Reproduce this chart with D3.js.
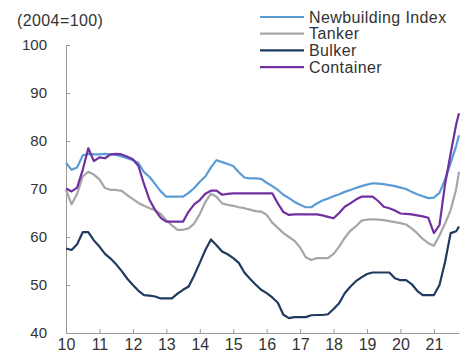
<!DOCTYPE html>
<html>
<head>
<meta charset="utf-8">
<script src="https://cdn.jsdelivr.net/npm/d3@7"></script>
<style>
  body { margin: 0; background: #fff; }
  text { font-family: "Liberation Sans", Arial, sans-serif; fill: #333; }
</style>
</head>
<body>
<div id="chart"></div>
<script>
// bi-monthly observations, Jan 2010 .. Sep 2021 (x axis in two-digit years)
const periods = d3.range(0, 71).map(k => 10 + k / 6).concat([21.75]);

const newbuilding = [
  75.5, 74, 74.5, 77, 77.3, 77.2, 77.2, 77.3, 77.2, 77.1, 76.8, 76.4,
  76, 75.4, 73.5, 72.5, 71, 69.5, 68.4, 68.4, 68.4, 68.4, 69.2, 70.2,
  71.5, 72.6, 74.5, 76, 75.6, 75.2, 74.8, 73.5, 72.4, 72.2, 72.2, 72.1,
  71.3, 70.6, 69.8, 68.8, 68.1, 67.3, 66.7, 66.2, 66.2, 67, 67.6, 68,
  68.5, 68.9, 69.4, 69.8, 70.2, 70.6, 70.9, 71.2, 71.1, 71, 70.8, 70.6,
  70.3, 70, 69.4, 68.9, 68.5, 68.1, 68.2, 69.2, 72, 75.4, 79, 81.2
];
const tanker = [
  69.8, 66.8, 69, 72.6, 73.6, 73, 72, 70.2, 69.8, 69.8, 69.6, 68.7,
  67.9, 67.1, 66.5, 66, 65.6, 64.8, 63.5, 62.4, 61.5, 61.5, 61.8, 62.8,
  64.8, 67.3, 69, 68.4, 67, 66.7, 66.5, 66.2, 66, 65.7, 65.4, 65.3,
  64.6, 63, 61.9, 60.8, 60, 59.2, 57.8, 55.8, 55.2, 55.6, 55.6, 55.6,
  56.5, 58, 59.8, 61.3, 62.2, 63.4, 63.6, 63.7, 63.6, 63.5, 63.3, 63.1,
  62.9, 62.6, 61.8, 60.8, 59.6, 58.7, 58.2, 60.3, 62.8, 65.6, 70, 73.6
];
const bulker = [
  57.6, 57.3, 58.5, 61, 61, 59.3, 58, 56.5, 55.5, 54.3, 52.9, 51.3,
  50, 48.8, 47.9, 47.8, 47.6, 47.2, 47.2, 47.2, 48.2, 49, 49.7, 52,
  54.6, 57.3, 59.5, 58.3, 57, 56.4, 55.6, 54.6, 52.6, 51.3, 50.1, 49,
  48.3, 47.4, 46.3, 43.8, 43.1, 43.3, 43.3, 43.3, 43.7, 43.75, 43.75, 43.9,
  45, 46.2, 48.3, 49.65, 50.8, 51.6, 52.3, 52.6, 52.6, 52.6, 52.6, 51.4,
  51, 51, 50.2, 48.8, 47.9, 47.9, 47.9, 50, 54.8, 60.8, 61.2, 62.2
];
const container = [
  70.1, 69.5, 70.3, 74, 78.5, 75.8, 76.6, 76.4, 77.2, 77.3, 77.2, 76.7,
  76.2, 74.8, 71, 67.7, 65.6, 64, 63.2, 63.2, 63.2, 63.2, 65.3, 66.8,
  67.7, 69, 69.65, 69.65, 68.8, 69, 69.1, 69.1, 69.1, 69.1, 69.1, 69.1,
  69.1, 69.1, 67, 65.2, 64.6, 64.7, 64.7, 64.7, 64.7, 64.7, 64.5, 64.2,
  63.9, 65, 66.3, 67, 67.8, 68.4, 68.4, 68.4, 67.5, 66.3, 66, 65.5,
  64.9, 64.8, 64.7, 64.5, 64.3, 64, 60.8, 62.5, 71, 77.4, 83.5, 85.8
];

const seriesNames = ["Newbuilding Index", "Tanker", "Bulker", "Container"];
const seriesValues = [newbuilding, tanker, bulker, container];
const colors = ["#5b9bd5", "#a6a6a6", "#1f3a5f", "#7030a0"];
const xTicks = d3.range(10, 22);
const yTicks = [40, 50, 60, 70, 80, 90, 100];

const width = 475, height = 364;
const marginLeft = 66, marginRight = 16, marginTop = 45, marginBottom = 31;

const x = d3.scaleLinear([10, 21.75], [marginLeft, width - marginRight]);
const y = d3.scaleLinear([40, 100], [height - marginBottom, marginTop]);

const svg = d3.select("#chart").append("svg")
    .attr("width", width)
    .attr("height", height)
    .attr("viewBox", [0, 0, width, height]);

svg.append("text")
    .attr("x", 17)
    .attr("y", 26)
    .attr("font-size", "16px")
    .attr("letter-spacing", "0.4px")
    .text("(2004=100)");

svg.append("g")
    .attr("transform", `translate(${marginLeft},0)`)
    .call(d3.axisLeft(y).tickValues(yTicks).tickSizeInner(-4).tickSizeOuter(0).tickPadding(19))
    .call(g => g.select(".domain").attr("stroke", "#999"))
    .call(g => g.selectAll(".tick line").attr("stroke", "#999"))
    .call(g => g.selectAll(".tick text").attr("font-size", "15px").attr("fill", "#333"));

svg.append("g")
    .attr("transform", `translate(0,${height - marginBottom})`)
    .call(d3.axisBottom(x).tickValues(xTicks).tickSizeInner(-4).tickSizeOuter(0).tickPadding(6))
    .call(g => g.select(".domain").attr("stroke", "#999"))
    .call(g => g.selectAll(".tick line").attr("stroke", "#999"))
    .call(g => g.selectAll(".tick text").attr("font-size", "16px").attr("fill", "#333"));

const line = d3.line()
    .x((d, i) => x(periods[i]))
    .y(d => y(d));

// draw order: tanker, bulker, newbuilding, container on top
[1, 2, 0, 3].forEach(s => {
  svg.append("path")
      .datum(seriesValues[s])
      .attr("fill", "none")
      .attr("stroke", colors[s])
      .attr("stroke-width", 2.2)
      .attr("stroke-linejoin", "round")
      .attr("d", line);
});

const legend = svg.append("g")
    .selectAll("g")
    .data(seriesNames)
    .join("g")
      .attr("transform", (d, i) => `translate(260,${17 + i * 16.7})`);

legend.append("line")
    .attr("x2", 44)
    .attr("stroke", (d, i) => colors[i])
    .attr("stroke-width", 2.2);

legend.append("text")
    .attr("x", 49)
    .attr("dy", "0.35em")
    .attr("font-size", "16px")
    .attr("letter-spacing", "0.4px")
    .text(d => d);
</script>
</body>
</html>
